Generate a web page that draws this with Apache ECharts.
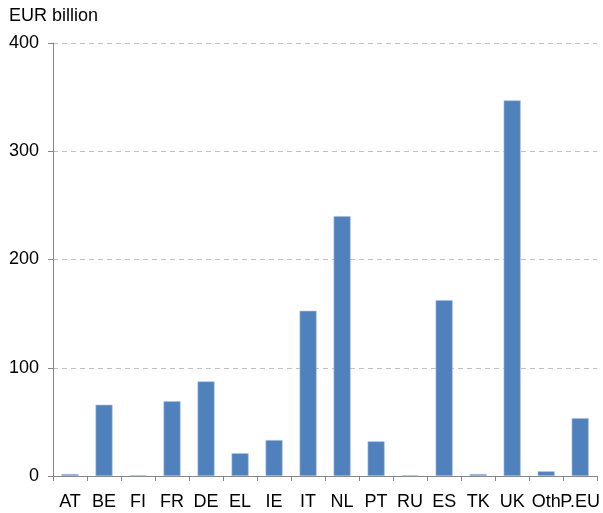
<!DOCTYPE html>
<html>
<head>
<meta charset="utf-8">
<script src="https://cdn.jsdelivr.net/npm/echarts@6/dist/echarts.min.js"></script>
<style>html,body{margin:0;padding:0;background:#fff;}#c{width:603px;height:513px;}</style>
</head>
<body>
<div id="c"></div>
<script>
const categories = ['AT','BE','FI','FR','DE','EL','IE','IT','NL','PT','RU','ES','TK','UK','Oth','P.EU'];
const values = [1.8, 65.8, 0.6, 69, 87.4, 21, 33.2, 152.6, 240, 32, 0.6, 162.5, 1.8, 347, 4.3, 53.5];
const yTicks = [0, 100, 200, 300, 400];
const unitLabel = 'EUR billion';

const FONT = '"Liberation Sans", Arial, sans-serif';
const chart = echarts.init(document.getElementById('c'), null, {renderer: 'canvas'});
chart.setOption({
  animation: false,
  textStyle: {fontFamily: FONT},
  title: {
    text: unitLabel, left: 4, top: 2,
    textStyle: {fontSize: 18, fontWeight: 'normal', color: '#000', fontFamily: FONT}
  },
  grid: {left: 53, right: 5, top: 43, bottom: 37, containLabel: false},
  xAxis: {
    type: 'category', data: categories,
    axisLine: {lineStyle: {color: '#868686', width: 1}},
    axisTick: {show: true, length: 5, alignWithLabel: false, lineStyle: {color: '#868686'}},
    axisLabel: {interval: 0, fontSize: 18, color: '#000', margin: 17, fontFamily: FONT}
  },
  yAxis: {
    type: 'value', min: yTicks[0], max: yTicks[yTicks.length - 1], interval: 100,
    axisLine: {show: true, lineStyle: {color: '#868686', width: 1}},
    axisTick: {show: true, length: 5, lineStyle: {color: '#868686'}},
    axisLabel: {fontSize: 18, color: '#000', margin: 14, fontFamily: FONT},
    splitLine: {show: true, lineStyle: {color: '#c0c0c0', type: [5, 4], width: 1}}
  },
  series: [{
    type: 'bar', data: values, barCategoryGap: '50%',
    itemStyle: {color: '#4f81bd', borderColor: '#a7bfdd', borderWidth: 0.6}
  }]
});
</script>
</body>
</html>
